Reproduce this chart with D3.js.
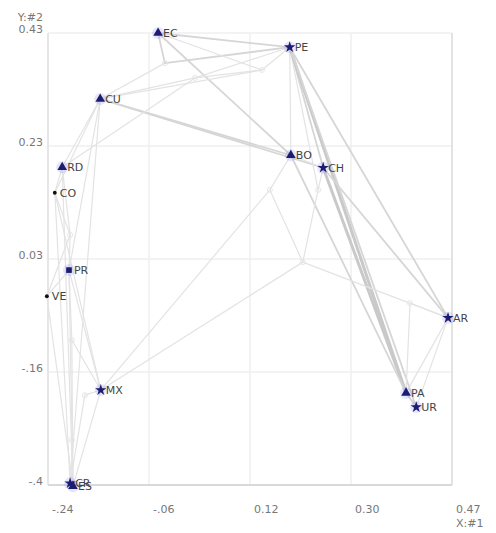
<!DOCTYPE html>
<html><head><meta charset="utf-8">
<script src="https://cdn.jsdelivr.net/npm/d3@7/dist/d3.min.js"></script>
<style>body{margin:0;background:#fff}svg text{font-family:"DejaVu Sans",Verdana,sans-serif}</style>
</head><body><svg id="c" width="496" height="533"></svg>
<script>
// ---- data ----
const names = ["EC","PE","CU","RD","CO","PR","VE","BO","CH","AR","PA","UR","MX","CR","ES"];
const xs    = [-0.046,0.186,-0.148,-0.215,-0.228,-0.203,-0.242,0.188,0.245,0.465,0.391,0.409,-0.147,-0.201,-0.196];
const ys    = [0.430,0.405,0.314,0.194,0.149,0.013,-0.033,0.215,0.193,-0.071,-0.203,-0.228,-0.198,-0.362,-0.367];
const junctionNames = ["J1","J2","J3","J4","J5","J6","J7","J8","J9","J10","J11"];
const jx = [0.209,-0.034,0.019,0.137,0.236,0.151,0.398,-0.201,-0.198,-0.175,-0.198];
const jy = [0.027,0.377,0.351,0.365,0.154,0.154,-0.045,0.075,-0.110,-0.207,-0.286];
const edgeFrom = ["EC","J2","J2","EC","EC","CU","J3","CU","CU","RD","RD","CO","PR","PE","PE","PE","PE","PE","PE","CH","BO","CH","BO","J6","CH","J5","J1","J1","J6","BO","AR","J7","AR","PA","AR","RD","RD","CO","J8","CO","VE","VE","PR","J9","PR","PR","RD","VE","J9","MX","J10","J10","CU","CR","J11","CO","J4","J4","EC","J3"];
const edgeTo   = ["J2","CU","PE","PE","BO","J3","PE","BO","CH","CU","J3","CU","CU","BO","CH","J5","PA","AR","UR","PA","PA","AR","J6","J1","J5","J1","AR","MX","MX","CH","J7","PA","UR","UR","PA","CO","J8","J8","PR","CR","ES","J8","J9","ES","MX","ES","ES","PR","MX","ES","MX","CR","CR","ES","ES","MX","PE","CU","J4","J4"];
const edgeWeight=[2,1,2,2,2,1,1,2,2,1,1,1,1,1,2,1,3,2,2,3,2,2,1,1,1,1,1,1,1,1,1,1,1,2,1,1,1,1,1,1,1,1,1,1,1,1,1,1,1,1,1,1,1,1,1,1,1,1,1,1];
const xTickLabels = ["-.24","-.06","0.12","0.30","0.47"];
const yTickLabels = ["0.43","0.23","0.03","-.16","-.4"];
const xAxisTitle = "X:#1", yAxisTitle = "Y:#2";
const shapeOf = {EC:"tri",PE:"star",CU:"tri",RD:"tri",CO:"dot",PR:"sq",VE:"dot",BO:"tri",CH:"star",AR:"star",PA:"tri",UR:"star",MX:"star",CR:"star",ES:"tri"};

// ---- layout ----
const svg = d3.select("#c");
const L=48,R=452,T=33,B=485;
const xMin=-0.24,xMax=0.472,yMin=-0.365,yMax=0.43;
const x = d3.scaleLinear().domain([xMin,xMax]).range([L,R]);
const y = d3.scaleLinear().domain([yMin,yMax]).range([B,T]);
const xTicks = d3.range(5).map(i=>xMin+i*(xMax-xMin)/4);
const yTicks = d3.range(5).map(i=>yMax-i*(yMax-yMin)/4);

// grid
svg.append("g").selectAll("line.gx").data(xTicks).join("line")
  .attr("x1",d=>x(d)).attr("x2",d=>x(d)).attr("y1",T).attr("y2",B)
  .attr("stroke","#efefef").attr("stroke-width",1.5);
svg.append("g").selectAll("line.gy").data(yTicks).join("line")
  .attr("y1",d=>y(d)).attr("y2",d=>y(d)).attr("x1",L).attr("x2",R)
  .attr("stroke","#efefef").attr("stroke-width",1.5);
svg.append("line").attr("x1",L).attr("x2",R).attr("y1",B).attr("y2",B).attr("stroke","#d0d0d0").attr("stroke-width",1.5);
svg.append("line").attr("x1",R).attr("x2",R).attr("y1",T).attr("y2",B).attr("stroke","#d4d4d4").attr("stroke-width",1);
svg.append("line").attr("x1",L).attr("x2",L).attr("y1",T).attr("y2",B).attr("stroke","#e2e2e2").attr("stroke-width",1.5);

// axis labels
svg.append("g").selectAll("text").data(xTicks).join("text")
  .attr("x",d=>x(d)+4).attr("y",513).attr("font-size",11).attr("fill","#777")
  .text((d,i)=>xTickLabels[i]);
svg.append("text").attr("x",x(xMax)+4).attr("y",527).attr("font-size",11).attr("fill","#777").text(xAxisTitle);
svg.append("g").selectAll("text").data(yTicks).join("text")
  .attr("x",43).attr("y",d=>y(d)).attr("text-anchor","end").attr("font-size",11).attr("fill","#777")
  .text((d,i)=>yTickLabels[i]);
svg.append("text").attr("x",43).attr("y",21).attr("text-anchor","end").attr("font-size",11).attr("fill","#777").text(yAxisTitle);

// points lookup
const pos = {};
names.forEach((n,i)=>pos[n]=[xs[i],ys[i]]);
junctionNames.forEach((n,i)=>pos[n]=[jx[i],jy[i]]);

// edges
const edges = edgeFrom.map((f,i)=>({f,t:edgeTo[i],w:edgeWeight[i]}));
const colW = {1:"#e3e3e3",2:"#d6d6d6",3:"#c9c9c9"};
svg.append("g").selectAll("line").data(edges).join("line")
  .attr("x1",d=>x(pos[d.f][0])).attr("y1",d=>y(pos[d.f][1]))
  .attr("x2",d=>x(pos[d.t][0])).attr("y2",d=>y(pos[d.t][1]))
  .attr("stroke",d=>colW[d.w]).attr("stroke-width",d=>d.w===3?3:(d.w===2?1.8:1.2))
  .attr("stroke-linecap","round");

// junction small circles
svg.append("g").selectAll("circle").data(junctionNames).join("circle")
  .attr("cx",n=>x(pos[n][0])).attr("cy",n=>y(pos[n][1])).attr("r",2.5)
  .attr("fill","none").attr("stroke","#e6e6e6");

// nodes
const nodes = names.map(n=>({n,px:x(pos[n][0]),py:y(pos[n][1]),s:shapeOf[n]}));
const g = svg.append("g");
g.selectAll("circle.halo").data(nodes.filter(d=>d.s!=="dot")).join("circle")
  .attr("cx",d=>d.px).attr("cy",d=>d.py).attr("r",6).attr("fill","#8a8af0").attr("opacity",0.22);
const sym = {tri:d3.symbolTriangle,star:d3.symbolStar,sq:d3.symbolSquare};
g.selectAll("path.m").data(nodes).join("path")
  .attr("transform",d=>`translate(${d.px},${d.py})`)
  .attr("d",d=>d.s==="dot"?d3.symbol(d3.symbolCircle,12)():d3.symbol(sym[d.s],d.s==="sq"?32:40)())
  .attr("fill",d=>d.s==="dot"?"#111":"#1c1c70");
g.selectAll("text").data(nodes).join("text")
  .attr("x",d=>d.px+5).attr("y",d=>d.py+4).attr("font-size",11).attr("fill","#444")
  .text(d=>d.n);
</script></body></html>
